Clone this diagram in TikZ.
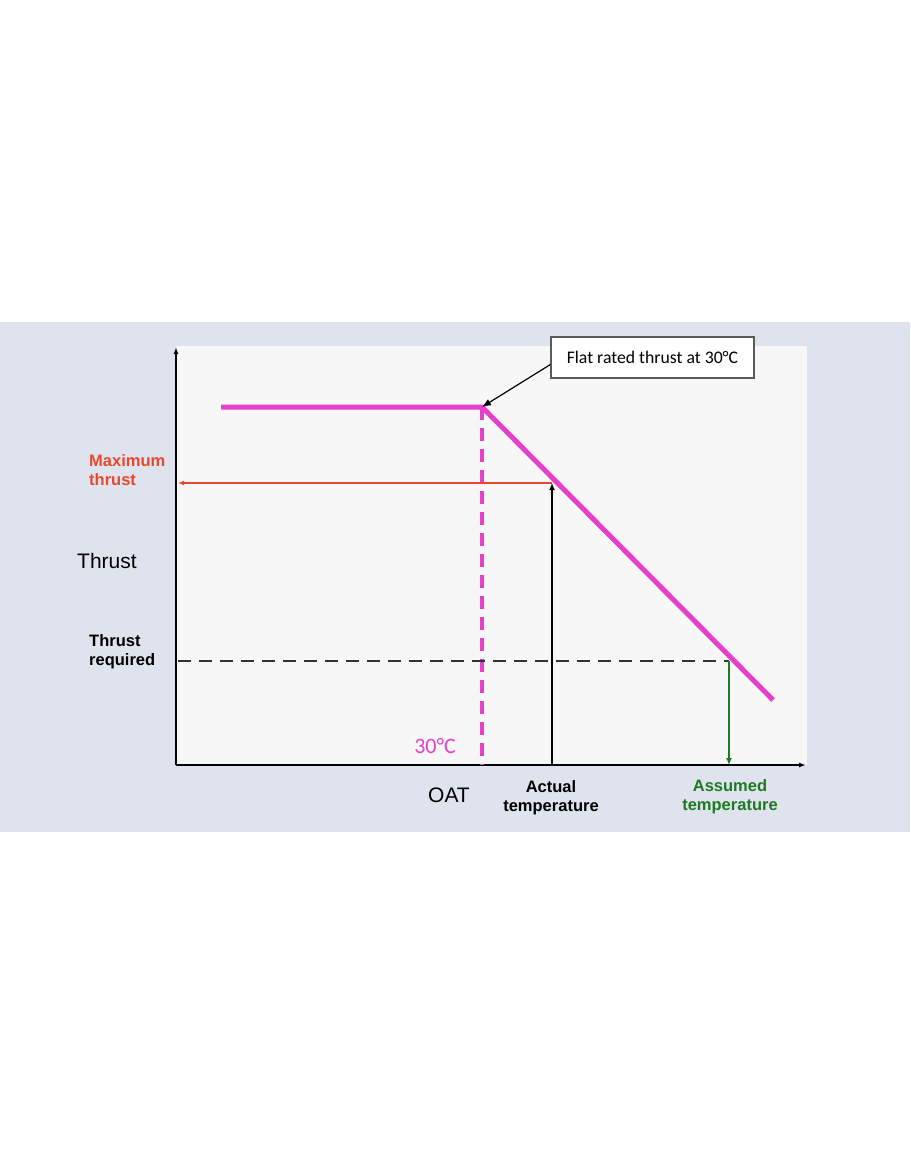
\documentclass[tikz,border=0pt]{standalone}
\usepackage{fontspec}
\setmainfont{Liberation Sans}
\newfontfamily\carlito{Carlito}
\usetikzlibrary{arrows.meta}

\definecolor{bandgrey}{RGB}{222,227,237}
\definecolor{plotgrey}{RGB}{247,247,247}
\definecolor{thrustpink}{RGB}{228,64,204}
\definecolor{maxred}{RGB}{232,72,44}
\definecolor{asmgreen}{RGB}{30,122,34}
\definecolor{boxgrey}{RGB}{90,90,90}

\begin{document}
\begin{tikzpicture}[x=1pt,y=-1pt,
    axis/.style={line width=1.8pt,-{Latex[length=7pt,width=5pt]}},
    thrustline/.style={line width=5pt,thrustpink},
    boldlabel/.style={font=\fontsize{16.5}{19}\selectfont\bfseries,inner sep=0pt},
    plainlabel/.style={font=\fontsize{21}{24}\selectfont,inner sep=0pt}]
    \useasboundingbox (0,0) rectangle (910,1155);

    % -- Hintergrund --
    \fill[bandgrey] (0,322) rectangle (910,832);
    \fill[plotgrey] (176,346) rectangle (807,765);

    % -- Punkte --
    \coordinate (O) at (176,765);
    \coordinate (ytip) at (176,347);
    \coordinate (xtip) at (806,765);
    \coordinate (flatL) at (221,407);
    \coordinate (knee) at (482,407);
    \coordinate (slopeEnd) at (773,700);
    \coordinate (kneeBase) at (482,765);
    \coordinate (maxPt) at (552,483);
    \coordinate (maxAxis) at (178,483);
    \coordinate (actBase) at (552,765);
    \coordinate (reqPt) at (729,661);
    \coordinate (reqAxis) at (178,661);
    \coordinate (asmBase) at (729,765);

    % -- Achsen --
    \draw[axis] (O) -- (ytip);
    \draw[axis] (O) -- (xtip);

    % -- Schubkennlinie --
    \draw[thrustpink,line width=4pt,dash pattern=on 13pt off 8pt] (knee) -- (kneeBase);
    \draw[thrustline,line join=round] (flatL) -- (knee) -- (slopeEnd);

    % -- Maximaler Schub --
    \draw[maxred,line width=1.8pt,-{Latex[length=6pt,width=5pt]}] (maxPt) -- (maxAxis);
    \draw[line width=2.4pt,-{Latex[length=7pt,width=6pt]}] (actBase) -- (maxPt);

    % -- Erforderlicher Schub --
    \draw[black!80,line width=2.6pt,dash pattern=on 13pt off 8pt] (reqAxis) -- (reqPt);
    \draw[asmgreen,line width=2pt,-{Latex[length=7pt,width=6pt]}] (reqPt) -- (asmBase);

    % -- Kasten mit Pfeil --
    \node[draw=boxgrey,line width=1.2pt,fill=white,minimum width=203pt,minimum height=41pt,
          font=\carlito\fontsize{17.7}{20}\selectfont] (box) at (652.5,357.5) {Flat rated thrust at 30°C};
    \draw[line width=1.2pt,-{Latex[length=9pt,width=7pt]}] ([yshift=-7pt]box.west) -- (knee);

    % -- Beschriftung --
    \node[boldlabel,maxred,align=left,anchor=base west] (maxLabel) at (89,485) {Maximum\\thrust};
    \node[plainlabel,anchor=base west] (yLabel) at (77,568) {Thrust};
    \node[boldlabel,align=left,anchor=base west] (reqLabel) at (89,665) {Thrust\\required};
    \node[thrustpink,inner sep=0pt,font=\carlito\fontsize{22}{24}\selectfont,anchor=base east] (tempLabel) at (456,753) {30°C};
    \node[plainlabel,anchor=base west] (xLabel) at (428,802) {OAT};
    \node[boldlabel,align=center,anchor=base] (actLabel) at (551,811) {Actual\\temperature};
    \node[boldlabel,asmgreen,align=center,anchor=base] (asmLabel) at (730,810) {Assumed\\temperature};
\end{tikzpicture}
\end{document}
